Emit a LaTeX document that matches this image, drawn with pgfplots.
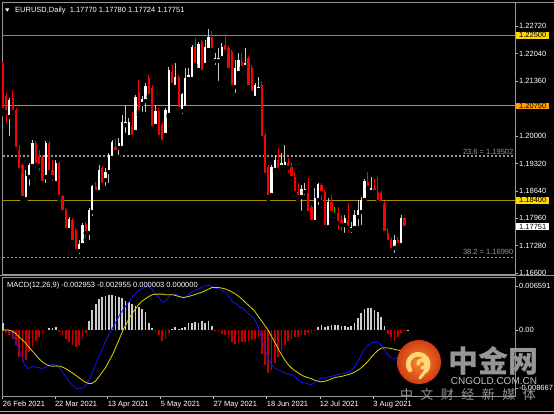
\documentclass[border=0pt]{standalone}
\usepackage{pgfplots}
\pgfplotsset{compat=1.18}
\usepackage{pgfplotstable}
\usepackage{fontspec}
\setmainfont{Liberation Sans}
\newfontfamily\cjk{Noto Sans CJK SC}
\definecolor{gold}{RGB}{176,142,0}
\definecolor{lvlorange}{RGB}{230,135,0}
\definecolor{boxyellow}{RGB}{255,215,0}
\definecolor{boxorange}{RGB}{255,160,0}
\definecolor{bearc}{RGB}{255,0,0}
\definecolor{bullwick}{RGB}{200,200,200}
\definecolor{histred}{RGB}{190,0,0}
\definecolor{histwhite}{RGB}{205,205,205}
\definecolor{macdblue}{RGB}{20,20,255}
\definecolor{sigyellow}{RGB}{230,210,0}
\definecolor{framegray}{RGB}{150,150,150}
\definecolor{fibgray}{RGB}{150,150,150}
\definecolor{wm}{RGB}{150,150,150}
\definecolor{logoin}{RGB}{245,140,40}
\definecolor{logoout}{RGB}{210,60,20}
\definecolor{swirl}{RGB}{255,215,120}

\pgfplotstableread{
i o h l c
0 1.21811 1.21835 1.20546 1.20645
1 1.20992 1.21067 1.20273 1.20595
3 1.20943 1.21141 1.20471 1.20595
4 1.20645 1.20695 1.19628 1.19678
5 1.19653 1.19777 1.19107 1.19157
6 1.19281 1.19331 1.18413 1.18463
10 1.19827 1.19876 1.19157 1.19281
11 1.19529 1.19653 1.19083 1.19256
12 1.19479 1.19529 1.18785 1.18835
14 1.19827 1.19876 1.19033 1.19107
15 1.19157 1.19405 1.18835 1.18983
17 1.19331 1.19380 1.18438 1.18487
18 1.18512 1.18537 1.18066 1.18115
19 1.18165 1.18215 1.17619 1.17669
21 1.17917 1.17967 1.17322 1.17371
22 1.17669 1.17719 1.17099 1.17148
25 1.17818 1.17867 1.17421 1.17595
28 1.18735 1.18859 1.18537 1.18611
30 1.19207 1.19256 1.18711 1.18785
34 1.19727 1.19926 1.19529 1.19603
39 1.20273 1.20595 1.19901 1.19975
41 1.21091 1.21389 1.20521 1.20595
44 1.21439 1.21513 1.20967 1.20992
45 1.21191 1.21265 1.20149 1.20199
47 1.20620 1.20695 1.19926 1.19975
48 1.20273 1.20347 1.19802 1.19851
51 1.21587 1.21761 1.21215 1.21265
53 1.21463 1.21513 1.20620 1.20670
58 1.22207 1.22431 1.21711 1.21761
60 1.22331 1.22381 1.21538 1.21587
63 1.22455 1.22604 1.22083 1.22133
67 1.22257 1.22530 1.22059 1.22083
68 1.22183 1.22232 1.21587 1.21637
69 1.22083 1.22133 1.21166 1.21215
72 1.21835 1.22059 1.21637 1.21687
74 1.21935 1.21984 1.21141 1.21215
75 1.21687 1.21761 1.21017 1.21067
78 1.21265 1.21364 1.19901 1.19951
79 1.20025 1.20075 1.18959 1.19033
80 1.19231 1.19281 1.18438 1.18487
83 1.19405 1.19703 1.19107 1.19157
86 1.19331 1.19455 1.19033 1.19207
87 1.19231 1.19331 1.18835 1.18959
88 1.18983 1.19107 1.18463 1.18587
89 1.18611 1.18835 1.18413 1.18487
92 1.18587 1.18959 1.17991 1.18091
93 1.18239 1.18289 1.17818 1.17867
96 1.18785 1.18835 1.18363 1.18587
97 1.18611 1.18661 1.17719 1.17743
99 1.18363 1.18537 1.17991 1.18091
101 1.18091 1.18239 1.17619 1.17843
102 1.17917 1.18041 1.17595 1.17793
104 1.17917 1.18339 1.17595 1.17719
110 1.18859 1.19107 1.18661 1.18711
112 1.18711 1.18934 1.18587 1.18611
113 1.18611 1.18983 1.18339 1.18363
114 1.18587 1.18636 1.18289 1.18339
115 1.18339 1.18388 1.17545 1.17595
116 1.17595 1.17719 1.17347 1.17371
117 1.17421 1.17471 1.17099 1.17173
119 1.17421 1.17495 1.17247 1.17297
121 1.17967 1.17991 1.17669 1.17719
122 1.17770 1.17780 1.17724 1.17751
}\beartab

\pgfplotstableread{
i o h l c
2 1.20471 1.20943 1.19951 1.20893
7 1.18438 1.19157 1.18339 1.19008
8 1.18983 1.19331 1.18711 1.19281
9 1.19256 1.19901 1.19231 1.19827
13 1.18983 1.19876 1.18785 1.19827
16 1.18835 1.19405 1.18735 1.19331
20 1.17669 1.17991 1.17619 1.17942
23 1.17148 1.17421 1.17024 1.17322
24 1.17297 1.17843 1.17247 1.17793
26 1.17595 1.18215 1.17371 1.18165
27 1.18115 1.18785 1.17967 1.18760
29 1.18611 1.19281 1.18587 1.19157
31 1.18909 1.19207 1.18711 1.19107
32 1.19107 1.19579 1.18785 1.19529
33 1.19455 1.19901 1.19405 1.19851
35 1.19703 1.19951 1.19479 1.19827
36 1.19703 1.20521 1.19653 1.20347
37 1.20273 1.20769 1.20025 1.20347
38 1.19975 1.20447 1.19926 1.20347
40 1.20099 1.21017 1.20050 1.20967
42 1.20794 1.20992 1.20546 1.20918
43 1.20868 1.21315 1.20546 1.21240
46 1.20248 1.20769 1.20149 1.20620
49 1.20025 1.20695 1.19951 1.20645
50 1.20521 1.21711 1.20471 1.21637
52 1.21215 1.21811 1.21166 1.21463
54 1.20620 1.21067 1.20496 1.21042
55 1.20695 1.21687 1.20645 1.21439
56 1.21414 1.21687 1.21389 1.21513
57 1.21414 1.22257 1.21364 1.22207
59 1.21637 1.22331 1.21587 1.22282
61 1.21761 1.22381 1.21711 1.22207
62 1.22133 1.22654 1.22083 1.22455
64 1.21860 1.22059 1.21711 1.21935
65 1.21860 1.22183 1.21315 1.21935
66 1.21935 1.22307 1.21885 1.22207
70 1.21215 1.21885 1.21017 1.21687
71 1.21563 1.22059 1.21513 1.21885
73 1.21711 1.22183 1.21687 1.21811
76 1.20943 1.21315 1.20893 1.21265
77 1.21141 1.21463 1.21091 1.21215
81 1.18537 1.19281 1.18487 1.19231
82 1.19157 1.19529 1.19107 1.19405
84 1.19231 1.19579 1.19207 1.19331
85 1.19231 1.19777 1.19207 1.19355
90 1.18487 1.18785 1.18091 1.18686
91 1.18611 1.18835 1.18487 1.18686
94 1.17867 1.18711 1.17843 1.18463
95 1.18413 1.18835 1.18239 1.18810
98 1.17743 1.18463 1.17694 1.18363
103 1.17793 1.18041 1.17545 1.17967
105 1.17669 1.17867 1.17545 1.17743
106 1.17719 1.18165 1.17619 1.18041
107 1.17991 1.18413 1.17719 1.18165
108 1.18115 1.18487 1.17743 1.18413
109 1.18413 1.18934 1.18363 1.18884
111 1.18611 1.18983 1.18587 1.18711
118 1.17223 1.17545 1.17049 1.17421
120 1.17297 1.18041 1.17247 1.17967
}\bulltab

\pgfplotstableread{
i o h l c
100 1.18066 1.18239 1.17917 1.18041
}\dojitab

\pgfplotsset{
  mtaxis/.style={
    scale only axis, width=513pt,
    xmin=-0.21, xmax=154.3,
    axis line style={draw=framegray, line width=0.6pt},
    tick align=outside, major tick length=3pt,
    tick style={draw=white!75!black, line width=0.5pt},
    ytick pos=right, yticklabel pos=right,
    ticklabel style={font=\fontsize{7.5}{8}\selectfont, text=white},
    yticklabel style={anchor=west, inner sep=1pt},
    clip=true,
  },
}

\begin{document}
\begin{tikzpicture}
\useasboundingbox (0pt,0pt) rectangle (554pt,414pt);
\fill[black] (0pt,0pt) rectangle (554pt,414pt);

% ---------------- price panel ----------------
\begin{axis}[mtaxis,
  at={(2pt,140pt)}, anchor=south west, height=272pt,
  ymin=1.16578, ymax=1.23323,
  xtick=\empty,
  ytick={1.166,1.1728,1.1796,1.1864,1.1932,1.2,1.2136,1.2204,1.2272},
  yticklabels={1.16600,1.17280,1.17960,1.18640,1.19320,1.20000,1.21360,1.22040,1.22720},
]
\addplot[gold, line width=1.2pt, forget plot] coordinates {(-1,1.225) (160,1.225)};
\addplot[lvlorange, line width=1.2pt, forget plot] coordinates {(-1,1.2075) (160,1.2075)};
\addplot[gold, line width=1.2pt, forget plot] coordinates {(-1,1.184) (160,1.184)};
\addplot[fibgray, line width=1.3pt, dash pattern=on 2pt off 2pt, forget plot] coordinates {(-1,1.19502) (160,1.19502)};
\addplot[fibgray, line width=1.3pt, dash pattern=on 2pt off 2pt, forget plot] coordinates {(-1,1.1699) (160,1.1699)};

% wicks
\addplot[only marks, mark=none, forget plot,
  error bars/.cd, y dir=plus, y explicit, error mark=none,
  error bar style={draw=bearc, line width=0.9pt}]
  table[x=i, y=l, y error plus expr=\thisrow{h}-\thisrow{l}] {\beartab};
\addplot[only marks, mark=none, forget plot,
  error bars/.cd, y dir=plus, y explicit, error mark=none,
  error bar style={draw=bullwick, line width=0.9pt}]
  table[x=i, y=l, y error plus expr=\thisrow{h}-\thisrow{l}] {\bulltab};
\addplot[only marks, mark=none, forget plot,
  error bars/.cd, y dir=plus, y explicit, error mark=none,
  error bar style={draw=green!80!black, line width=0.9pt}]
  table[x=i, y=l, y error plus expr=\thisrow{h}-\thisrow{l}] {\dojitab};
% bodies
\addplot[only marks, mark=none, forget plot,
  error bars/.cd, y dir=plus, y explicit, error mark=none,
  error bar style={draw=bearc, line width=2.3pt}]
  table[x=i, y=c, y error plus expr={max(\thisrow{o}-\thisrow{c},0.00012)}] {\beartab};
\addplot[only marks, mark=none, forget plot,
  error bars/.cd, y dir=plus, y explicit, error mark=none,
  error bar style={draw=white, line width=2.3pt}]
  table[x=i, y=o, y error plus expr={max(\thisrow{c}-\thisrow{o},0.00012)}] {\bulltab};
\addplot[only marks, mark=none, forget plot,
  error bars/.cd, y dir=plus, y explicit, error mark=none,
  error bar style={draw=green!80!black, line width=2.3pt}]
  table[x=i, y=c, y error plus expr={max(\thisrow{o}-\thisrow{c},0.00012)}] {\dojitab};
\end{axis}

% ---------------- MACD panel ----------------
\begin{axis}[mtaxis,
  at={(2pt,18pt)}, anchor=south west, height=119pt,
  ymin=-0.00988, ymax=0.0079,
  scaled y ticks=false,
  ytick={-0.008667,0,0.006591},
  yticklabels={-0.008667,0.00,0.006591},
  xtick={0,15.7,31.6,47.6,63.5,79.5,95.5,111.6},
  xticklabels={26 Feb 2021,22 Mar 2021,13 Apr 2021,5 May 2021,27 May 2021,18 Jun 2021,12 Jul 2021,3 Aug 2021},
  xtick pos=left,
  xticklabel style={anchor=north west, inner sep=0pt, yshift=-2pt},
]
\addplot[ycomb, draw=histwhite, line width=1.7pt, forget plot] coordinates {
(0,0.0010) (14,0.0003) (15,0.0003) (16,0.0004) (26,0.0014) (27,0.0029) (28,0.0039) (29,0.0046) (30,0.0049) (31,0.0051) (32,0.0052) (33,0.0052) (34,0.0051) (35,0.0049) (36,0.0047) (37,0.0043) (38,0.0041) (39,0.0039) (40,0.0036) (41,0.0034) (42,0.0031) (43,0.0026) (44,0.0011) (45,0.0003) (51,0.0002) (52,0.0004) (53,0.0001) (54,0.0003) (55,0.0005) (56,0.0010) (57,0.0011) (58,0.0012) (59,0.0011) (60,0.0013) (61,0.0010) (62,0.0014) (63,0.0006) (95,0.0004) (96,0.0008) (97,0.0005) (98,0.0006) (99,0.0008) (100,0.0008) (101,0.0008) (102,0.0006) (103,0.0006) (104,0.0005) (105,0.0006) (106,0.0010) (107,0.0018) (108,0.0025) (109,0.0031) (110,0.0033) (111,0.0032) (112,0.0029) (113,0.0026) (114,0.0019) (115,0.0006) (122,0.000003)
};
\addplot[ycomb, draw=histred, line width=1.7pt, forget plot] coordinates {
(1,-0.0004) (2,-0.0008) (3,-0.0013) (4,-0.0023) (5,-0.0040) (6,-0.0048) (7,-0.0045) (8,-0.0033) (9,-0.0025) (10,-0.0017) (11,-0.0010) (12,-0.0005) (17,-0.00035) (18,-0.0008) (19,-0.0013) (20,-0.0018) (21,-0.0022) (22,-0.0025) (23,-0.0023) (24,-0.0013) (25,-0.0004) (46,-0.0003) (47,-0.0008) (48,-0.0016) (49,-0.0013) (50,-0.0004) (64,-0.0002) (65,-0.00035) (66,-0.0006) (67,-0.0007) (68,-0.0011) (69,-0.0018) (70,-0.0021) (71,-0.0020) (72,-0.0018) (73,-0.0018) (74,-0.0016) (75,-0.0015) (76,-0.0013) (77,-0.0011) (78,-0.0036) (79,-0.0053) (80,-0.0065) (81,-0.0060) (82,-0.0050) (83,-0.0041) (84,-0.0031) (85,-0.0023) (86,-0.0016) (87,-0.0013) (88,-0.0011) (89,-0.0010) (90,-0.0008) (91,-0.0007) (92,-0.0005) (93,-0.0004) (94,-0.0002) (116,-0.0006) (117,-0.0011) (118,-0.0016) (119,-0.0011) (120,-0.0005) (121,-0.0002)
};
\addplot[macdblue, line width=0.8pt, line join=round, forget plot] coordinates {
(-0.81,-0.00025) (0.25,-0.00015) (1.32,-0.0001) (2.38,-0.00035) (3.45,-0.00109) (4.51,-0.00232) (5.57,-0.0038) (6.64,-0.00529) (7.70,-0.00578) (8.76,-0.00553) (9.83,-0.00553) (10.89,-0.00563) (11.96,-0.00578) (13.02,-0.00553) (14.08,-0.00529) (15.15,-0.00519) (16.21,-0.00529) (17.27,-0.00578) (18.34,-0.00652) (19.40,-0.00726) (20.47,-0.008) (21.53,-0.0085) (22.59,-0.00884) (23.66,-0.00874) (24.72,-0.0085) (25.79,-0.00776) (26.85,-0.00652) (27.91,-0.00529) (28.98,-0.00405) (30.04,-0.00282) (31.10,-0.00158) (32.17,-0.00059) (33.23,0.0004) (34.30,0.00138) (35.36,0.00237) (36.42,0.00311) (37.49,0.00385) (38.55,0.00459) (39.61,0.00524) (40.68,0.00573) (41.74,0.00608) (42.81,0.00642) (43.87,0.00657) (44.93,0.00608) (46.00,0.00534) (47.06,0.00484) (48.12,0.0041) (49.19,0.00435) (50.25,0.00509) (51.32,0.00534) (52.38,0.00524) (53.44,0.00494) (54.51,0.00474) (55.57,0.00509) (56.64,0.00558) (57.70,0.00583) (58.76,0.00608) (59.83,0.00632) (60.89,0.00657) (61.95,0.00672) (63.02,0.00642) (64.08,0.00622) (65.15,0.00608) (66.21,0.00583) (67.27,0.00558) (68.34,0.00484) (69.40,0.0041) (70.46,0.00385) (71.53,0.00336) (72.59,0.00311) (73.66,0.00262) (74.72,0.00212) (75.78,0.00163) (76.85,0.00064) (77.91,-0.00109) (78.98,-0.00282) (80.04,-0.0043) (81.10,-0.00529) (82.17,-0.00578) (83.23,-0.00603) (84.29,-0.00627) (85.36,-0.00652) (86.42,-0.00662) (87.49,-0.00677) (88.55,-0.00726) (89.61,-0.00776) (90.68,-0.0079) (91.74,-0.008) (92.80,-0.00825) (93.87,-0.0079) (94.93,-0.00751) (96.00,-0.00711) (97.06,-0.00726) (98.12,-0.00701) (99.19,-0.00692) (100.25,-0.00677) (101.32,-0.00662) (102.38,-0.00652) (103.44,-0.00642) (104.51,-0.00627) (105.57,-0.00578) (106.63,-0.00504) (107.70,-0.00405) (108.76,-0.00306) (109.83,-0.00232) (110.89,-0.00198) (111.95,-0.00183) (113.02,-0.00183) (114.08,-0.00232) (115.15,-0.00306) (116.21,-0.0038) (117.27,-0.0043) (118.34,-0.0043) (119.40,-0.00405) (120.46,-0.0037) (121.53,-0.0033) (122,-0.002953)
};
\addplot[sigyellow, line width=0.8pt, line join=round, forget plot] coordinates {
(-0.81,-0.0001) (0.25,-0.00005) (1.32,0) (2.38,-0.0001) (3.45,-0.00035) (4.51,-0.00084) (5.57,-0.00133) (6.64,-0.00183) (7.70,-0.00247) (8.76,-0.00306) (9.83,-0.00366) (10.89,-0.0043) (11.96,-0.00479) (13.02,-0.00514) (14.08,-0.00538) (15.15,-0.00543) (16.21,-0.00538) (17.27,-0.00543) (18.34,-0.00563) (19.40,-0.00593) (20.47,-0.00627) (21.53,-0.00662) (22.59,-0.00701) (23.66,-0.00741) (24.72,-0.00776) (25.79,-0.008) (26.85,-0.008) (27.91,-0.00766) (28.98,-0.00701) (30.04,-0.00627) (31.10,-0.00553) (32.17,-0.00454) (33.23,-0.00356) (34.30,-0.00232) (35.36,-0.00109) (36.42,0.00015) (37.49,0.00114) (38.55,0.00212) (39.61,0.00287) (40.68,0.00361) (41.74,0.0042) (42.81,0.00459) (43.87,0.00494) (44.93,0.00524) (46.00,0.00534) (47.06,0.00534) (48.12,0.00534) (49.19,0.00524) (50.25,0.00524) (51.32,0.00524) (52.38,0.00509) (53.44,0.00494) (54.51,0.00484) (55.57,0.00494) (56.64,0.00509) (57.70,0.00524) (58.76,0.00543) (59.83,0.00558) (60.89,0.00583) (61.95,0.00608) (63.02,0.00632) (64.08,0.00632) (65.15,0.00632) (66.21,0.00622) (67.27,0.00608) (68.34,0.00583) (69.40,0.00558) (70.46,0.00524) (71.53,0.00484) (72.59,0.00435) (73.66,0.00385) (74.72,0.00336) (75.78,0.00287) (76.85,0.00212) (77.91,0.00138) (78.98,0.00064) (80.04,-0.0001) (81.10,-0.00109) (82.17,-0.00207) (83.23,-0.00306) (84.29,-0.00395) (85.36,-0.00479) (86.42,-0.00543) (87.49,-0.00593) (88.55,-0.00627) (89.61,-0.00662) (90.68,-0.00692) (91.74,-0.00711) (92.80,-0.00726) (93.87,-0.00751) (94.93,-0.00766) (96.00,-0.00776) (97.06,-0.00766) (98.12,-0.00751) (99.19,-0.00726) (100.25,-0.00711) (101.32,-0.00701) (102.38,-0.00692) (103.44,-0.00677) (104.51,-0.00662) (105.57,-0.00642) (106.63,-0.00613) (107.70,-0.00578) (108.76,-0.00529) (109.83,-0.00479) (110.89,-0.00415) (111.95,-0.00356) (113.02,-0.00306) (114.08,-0.00272) (115.15,-0.00267) (116.21,-0.00272) (117.27,-0.00282) (118.34,-0.00296) (119.40,-0.00306) (120.46,-0.00306) (121.53,-0.003) (122,-0.002955)
};
\end{axis}

% window separators
\draw[framegray, line width=0.6pt] (515pt,412pt) -- (554pt,412pt);
\draw[framegray, line width=1.2pt] (0pt,138.5pt) -- (554pt,138.5pt);
\draw[framegray!80, line width=0.8pt] (0pt,2.3pt) -- (554pt,2.3pt);

% header texts
\fill[white] (5pt,405.7pt) -- (9.4pt,405.7pt) -- (7.2pt,402.4pt) -- cycle;
\node[anchor=base west, inner sep=0pt, text=white, font=\fontsize{7.5}{8}\selectfont] at (15pt,401.2pt) {EURUSD,Daily\ \ 1.17770 1.17780 1.17724 1.17751};
\node[anchor=base west, inner sep=0pt, text=white, font=\fontsize{7.5}{8}\selectfont] at (7pt,126.8pt) {MACD(12,26,9) -0.002953 -0.002955 0.000003 0.000000};

% fibonacci labels
\node[anchor=base east, inner sep=0pt, text=fibgray, font=\fontsize{7.5}{8}\selectfont] at (513.5pt,259.6pt) {23.6 = 1.19502};
\node[anchor=base east, inner sep=0pt, text=fibgray, font=\fontsize{7.5}{8}\selectfont] at (513.5pt,159pt) {38.2 = 1.16990};

% price boxes
\node[anchor=west, fill=boxyellow, text=black, inner xsep=3pt, inner ysep=0.8pt, font=\fontsize{7.5}{8}\selectfont] at (516pt,378.6pt) {1.22500};
\node[anchor=west, fill=boxorange, text=black, inner xsep=3pt, inner ysep=0.8pt, font=\fontsize{7.5}{8}\selectfont] at (516pt,308pt) {1.20750};
\node[anchor=west, fill=boxyellow, text=black, inner xsep=3pt, inner ysep=0.8pt, font=\fontsize{7.5}{8}\selectfont] at (516pt,213.6pt) {1.18400};
\node[anchor=west, fill=white, text=black, inner xsep=3pt, inner ysep=0.8pt, font=\fontsize{7.5}{8}\selectfont] at (516pt,187.2pt) {1.17751};

% watermark
\shade[inner color=logoin, outer color=logoout] (419pt,52pt) circle (22pt);
\draw[swirl, line width=4.5pt, line cap=round] (410pt,44pt) arc[start angle=215, end angle=-40, radius=10pt];
\draw[swirl, line width=3.5pt, line cap=round] (418pt,50pt) arc[start angle=180, end angle=-90, radius=4pt];
\draw[swirl, line width=3pt, line cap=round] (427pt,45pt) -- (420pt,36pt);
\node[text=wm, font=\cjk\bfseries\fontsize{30}{30}\selectfont, inner sep=0pt] at (493.5pt,53pt) {中金网};
\node[text=white!75!black, font=\fontsize{10}{10}\selectfont, inner sep=0pt] at (494pt,33pt) {CNGOLD.COM.CN};
\node[text=wm, font=\cjk\fontsize{13}{13}\selectfont, inner sep=0pt] at (468pt,19pt) {中\hspace{7.5pt}文\hspace{7.5pt}财\hspace{7.5pt}经\hspace{7.5pt}新\hspace{7.5pt}媒\hspace{7.5pt}体};
\end{tikzpicture}
\end{document}
